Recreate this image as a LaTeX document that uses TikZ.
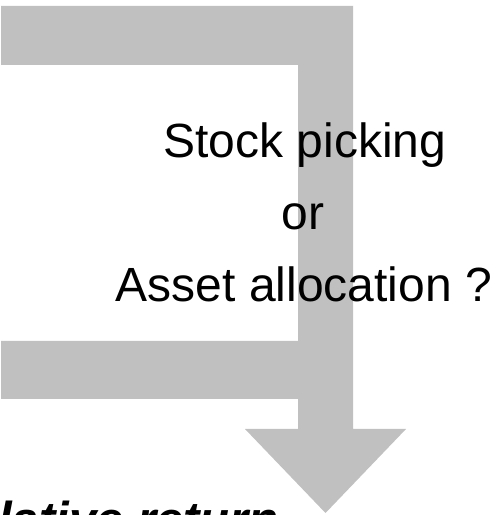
\documentclass[tikz,border=0pt]{standalone}
\usepackage{fontspec}
\setmainfont{Liberation Sans}
\definecolor{arrowgray}{HTML}{C0C0C0}
\tikzset{
  bigtext/.style={font=\fontsize{48}{58}\selectfont, text=black, inner sep=0pt, anchor=base},
  bottomtext/.style={font=\fontsize{49}{58}\selectfont\bfseries\itshape, text=black, inner sep=0pt, anchor=base west},
  bent/.style={fill=arrowgray, draw=none}
}
\begin{document}
\begin{tikzpicture}[x=1pt,y=1pt]
\useasboundingbox (0,0) rectangle (502,515);
\clip (0,0) rectangle (502,515);
\fill[white] (0,0) rectangle (502,515);
% bent arrow (y = 515 - pixel row)
\path[bent] (1,509) -- (353,509) -- (353,86) -- (406,86) -- (325.5,2) -- (245,86) -- (298,86)
  -- (298,116) -- (1,116) -- (1,174) -- (298,174) -- (298,450) -- (1,450) -- cycle;
\node[bigtext] (l1) at (305,357) {Stock picking};
\node[bigtext] (l2) at (303,285) {or};
\node[bigtext] (l3) at (304,213) {Asset allocation ?};
\node[bottomtext] (bt) at (-2,-21) {lative return};
\end{tikzpicture}
\end{document}
